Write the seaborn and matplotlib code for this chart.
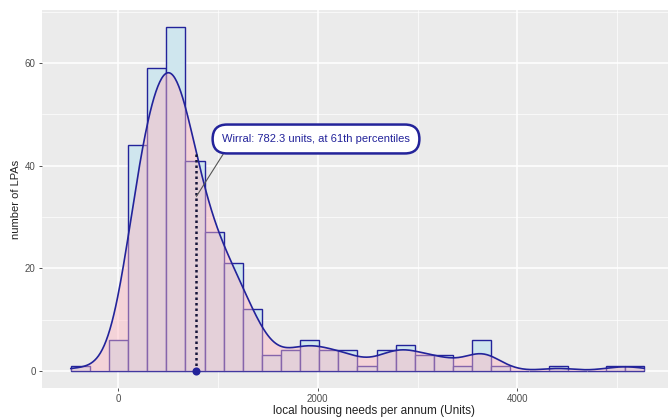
import numpy as np
import pandas as pd
import matplotlib
matplotlib.use("Agg")
import matplotlib.pyplot as plt
from matplotlib.ticker import FixedLocator
import seaborn as sns

# Number of LPAs in each of 30 equal-width bins of annual housing need
bin_start = -478.0
bin_width = 191.7
lpa_counts = [1, 0, 6, 44, 59, 67, 41, 27, 21, 12,
              3, 4, 6, 4, 4, 1, 4, 5, 3, 3,
              1, 6, 1, 0, 0, 1, 0, 0, 1, 1]

# Highlighted authority
highlight_name = "Wirral"
highlight_value = 782.3
highlight_percentile = 61

x_major = [0, 2000, 4000]
x_minor = [1000, 3000, 5000]
y_major = [0, 20, 40, 60]
y_minor = [10, 30, 50, 70]

edges = bin_start + bin_width * np.arange(len(lpa_counts) + 1)
centers = (edges[:-1] + edges[1:]) / 2
df = pd.DataFrame({"need": centers, "lpas": lpa_counts})

navy = "#23239A"
panel_bg = "#EBEBEB"

sns.set_theme(style="darkgrid", rc={"axes.facecolor": panel_bg,
                                    "grid.color": "white"})
plt.rcParams["font.family"] = ["Liberation Sans", "DejaVu Sans"]

fig = plt.figure(figsize=(6.68, 4.18), dpi=100)
fig.patch.set_facecolor("white")
ax = fig.add_axes([42 / 668, 1 - 388 / 418, 626 / 668, 378 / 418])

sns.histplot(data=df, x="need", weights="lpas", bins=edges.tolist(),
             stat="count", kde=True,
             kde_kws=dict(bw_adjust=0.27, cut=3,
                          clip=(edges[0], edges[-1]), gridsize=600),
             facecolor="#CFE6EE", edgecolor=navy, linewidth=1.0,
             ax=ax, zorder=1)

# Density curve scaled to counts, with a translucent fill underneath
kde_line = ax.lines[-1]
kx = np.asarray(kde_line.get_xdata())
ky = np.asarray(kde_line.get_ydata())
kde_line.set_color(navy)
kde_line.set_linewidth(1.2)
kde_line.set_zorder(4)
ax.fill_between(kx, 0, ky, color="#FFB6C1", alpha=0.45, lw=0, zorder=2)

# Marker for the highlighted authority
h = np.interp(highlight_value, kx, ky)
ax.plot([highlight_value, highlight_value], [0, h], color="#15153A",
        lw=1.8, ls=(0, (1, 1.2)), zorder=5)
ax.scatter([highlight_value], [0], s=34, color=navy, zorder=6, lw=0)

label = (f"{highlight_name}: {highlight_value} units, "
         f"at {highlight_percentile}th percentiles")
ax.annotate(label, xy=(highlight_value, 34), xytext=(1982, 45.2),
            textcoords="data", ha="center", va="center",
            fontsize=8, color=navy, zorder=7,
            bbox=dict(boxstyle="round,pad=0.85,rounding_size=1.3",
                      fc="white", ec=navy, lw=1.8),
            arrowprops=dict(arrowstyle="-", color="#555555", lw=0.8,
                            relpos=(0.04, 0.0), shrinkA=0, shrinkB=0))

ax.set_xlim(-766, 5512)
ax.set_ylim(-3.35, 70.35)
ax.xaxis.set_major_locator(FixedLocator(x_major))
ax.xaxis.set_minor_locator(FixedLocator(x_minor))
ax.yaxis.set_major_locator(FixedLocator(y_major))
ax.yaxis.set_minor_locator(FixedLocator(y_minor))
ax.grid(which="major", color="white", lw=1.1)
ax.grid(which="minor", color="white", lw=0.5)
ax.set_axisbelow(True)
for s in ax.spines.values():
    s.set_visible(False)

ax.tick_params(which="major", bottom=True, left=True, length=2.5,
               width=0.6, color="#333333", labelsize=7,
               labelcolor="#4D4D4D", pad=2)
ax.tick_params(which="minor", bottom=False, left=False)

ax.set_xlabel("local housing needs per annum (Units)", fontsize=8.5,
              color="#222222")
ax.xaxis.set_label_coords(0.53, -0.045)
ax.set_ylabel("number of LPAs", fontsize=8, color="#222222", labelpad=3)

fig.savefig("out.png", dpi=100, facecolor="white")
